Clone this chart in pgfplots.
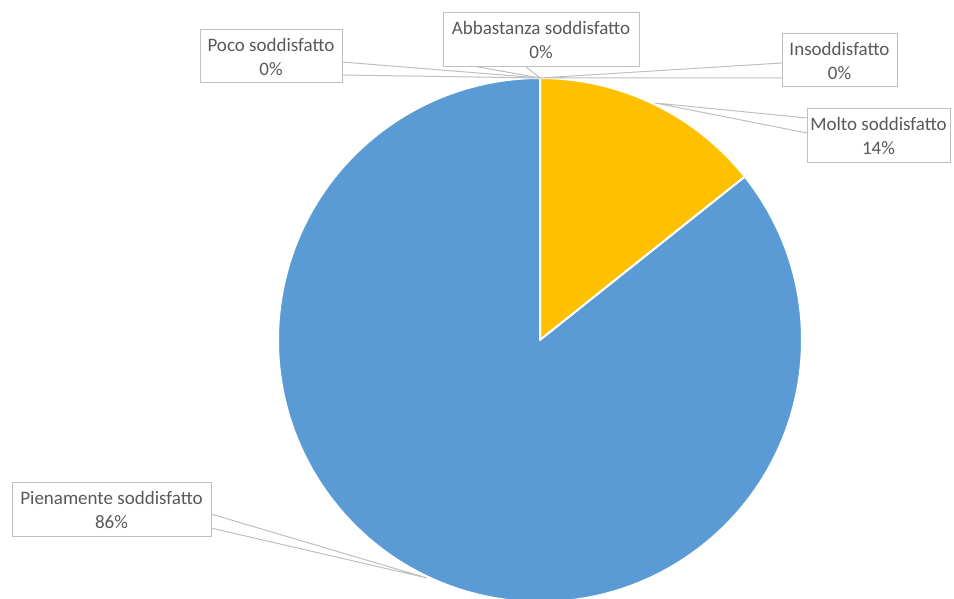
\documentclass[border=0pt]{standalone}
\usepackage{pgfplots}
\pgfplotsset{compat=1.18}
\usepackage{fontspec}
\setmainfont{Carlito}
\definecolor{pieblue}{HTML}{5B9BD5}
\definecolor{pieyellow}{HTML}{FFC000}
\definecolor{lblgray}{HTML}{595959}
\definecolor{boxgray}{HTML}{BFBFBF}
\tikzset{
  callout/.style={draw=boxgray, line width=0.75pt, fill=white, text=lblgray,
    inner sep=0pt, align=center, font=\fontsize{14.25pt}{18pt}\selectfont},
  wedge/.style={draw=boxgray, line width=0.75pt},
}
\begin{document}
\begin{tikzpicture}
\begin{axis}[
  x=0.75pt, y=0.75pt,
  xmin=0, xmax=954, ymin=0, ymax=599,
  hide axis, clip=true,
]
% Values: Insoddisfatto 0, Poco 0, Abbastanza 0, Molto 14.2857, Pienamente 85.7143
% start at 90 deg, clockwise: angle = 3.6*value
\filldraw[fill=pieyellow, draw=white, line width=1.5pt, line join=round]
  (axis cs:540,259) -- ++(90:196.5pt) arc[start angle=90, end angle=38.571, radius=196.5pt] -- cycle;
\filldraw[fill=pieblue, draw=white, line width=1.5pt, line join=round]
  (axis cs:540,259) -- ++(38.571:196.5pt) arc[start angle=38.571, end angle=-270, radius=196.5pt] -- cycle;

% callout wedges
\draw[wedge] (axis cs:342,537) -- (axis cs:540,521) -- (axis cs:342,524);
\draw[wedge] (axis cs:473,533) -- (axis cs:540,521) -- (axis cs:525,533);
\draw[wedge] (axis cs:782,536) -- (axis cs:540,521) -- (axis cs:782,521);
\draw[wedge] (axis cs:807,481) -- (axis cs:655,496) -- (axis cs:807,466);
\draw[wedge] (axis cs:211,85) -- (axis cs:427,21) -- (axis cs:211,71);

% callout boxes
\node[callout, minimum width=106.5pt, minimum height=39.75pt] at (axis cs:271,542.5) {Poco soddisfatto\\0\%};
\node[callout, minimum width=147pt, minimum height=40.5pt] at (axis cs:541,559) {Abbastanza soddisfatto\\0\%};
\node[callout, minimum width=86.25pt, minimum height=39.75pt] at (axis cs:839.5,538.5) {Insoddisfatto\\0\%};
\node[callout, minimum width=107.25pt, minimum height=40.5pt] at (axis cs:878.5,463) {Molto soddisfatto\\14\%};
\node[callout, minimum width=149.25pt, minimum height=40.5pt] at (axis cs:111.5,89) {Pienamente soddisfatto\\86\%};
\end{axis}
\pgfresetboundingbox
\useasboundingbox (current axis.south west) rectangle (current axis.north east);
\end{tikzpicture}
\end{document}
